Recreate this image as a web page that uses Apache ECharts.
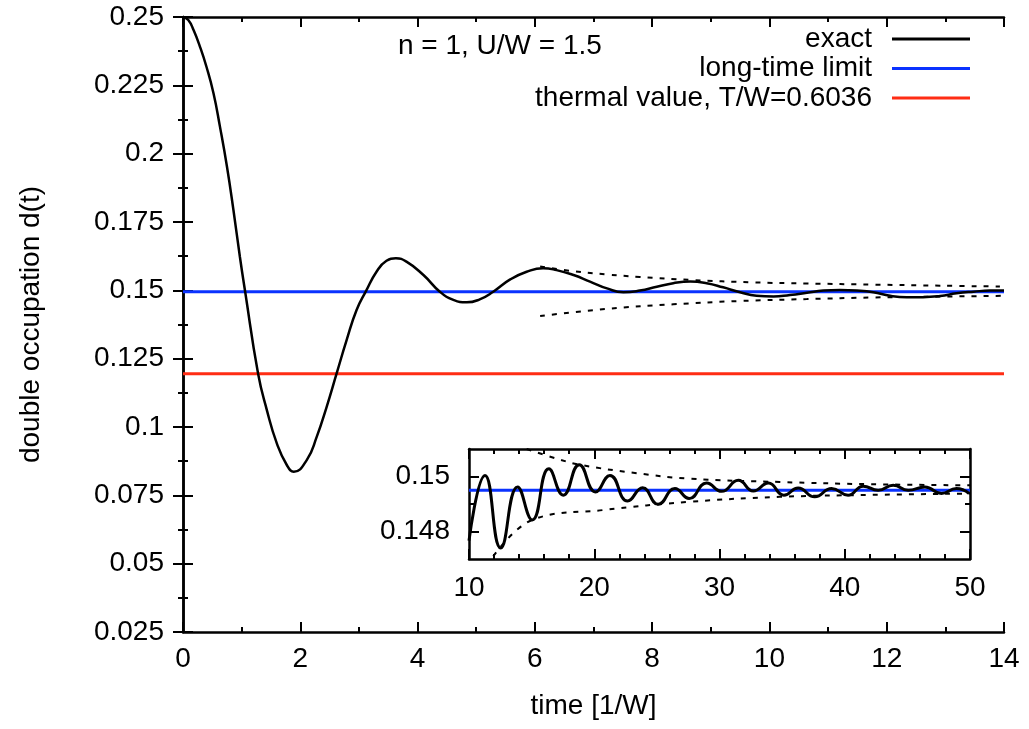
<!DOCTYPE html>
<html><head><meta charset="utf-8">
<script src="https://cdn.jsdelivr.net/npm/echarts@6/dist/echarts.min.js"></script>
<style>html,body{margin:0;padding:0;background:#fff}#c{width:1029px;height:729px}</style>
</head><body><div id="c"></div>
<script>
// ---- data ----
const mainTime = [0, 0.09, 0.18, 0.29, 0.40, 0.52, 0.63, 0.75, 0.86, 0.97, 1.06, 1.28, 1.43, 1.60, 1.77, 1.89, 2.11, 2.28, 2.45, 2.62, 2.79, 2.96, 3.12, 3.30, 3.47, 3.63, 3.81, 4.10, 4.38, 4.61, 4.84, 5.06, 5.29, 5.58, 5.86, 6.14, 6.37, 6.66, 6.94, 7.23, 7.51, 7.79, 8.08, 8.36, 8.65, 8.93, 9.21, 9.50, 9.78, 10.07, 10.35, 10.64, 10.92, 11.20, 11.49, 11.77, 12.06, 12.34, 12.62, 12.91, 13.19, 13.48, 13.76, 14.0];
const mainExact = [0.25, 0.2489, 0.2452, 0.2391, 0.2318, 0.2221, 0.2099, 0.1952, 0.1794, 0.1623, 0.1495, 0.1196, 0.1062, 0.0940, 0.0861, 0.0836, 0.0879, 0.0964, 0.1074, 0.1196, 0.1318, 0.1428, 0.1497, 0.1568, 0.1608, 0.1617, 0.1605, 0.1556, 0.1495, 0.1465, 0.1456, 0.1467, 0.1495, 0.1540, 0.1568, 0.1581, 0.1574, 0.1556, 0.1532, 0.1507, 0.1493, 0.1499, 0.1513, 0.1526, 0.1532, 0.1526, 0.1511, 0.1493, 0.1480, 0.1477, 0.1483, 0.1491, 0.1499, 0.1501, 0.1499, 0.1493, 0.1480, 0.1475, 0.1475, 0.1479, 0.1489, 0.1495, 0.1499, 0.1499];
const longTimeLimit = 0.1495;
const thermalValue = 0.1195;
const mainUpperTime = [6.09, 6.66, 7.23, 7.79, 8.65, 9.73, 10.64, 11.77, 12.91, 13.93];
const mainUpper = [0.1587, 0.1570, 0.1558, 0.1549, 0.1538, 0.1529, 0.1525, 0.1521, 0.1517, 0.1514];
const mainLowerTime = [6.09, 7.23, 8.36, 9.5, 10.64, 11.77, 12.91, 14.0];
const mainLower = [0.1406, 0.1432, 0.1449, 0.1461, 0.1468, 0.1474, 0.1477, 0.1480];
const insetTime = [10.0, 11.28, 12.53, 13.88, 15.05, 16.38, 17.53, 18.8, 20.1, 21.25, 22.67, 23.86, 25.1, 26.44, 27.58, 28.97, 30.17, 31.5, 32.7, 33.9, 35.14, 36.28, 37.6, 38.95, 40.27, 41.47, 42.67, 43.87, 45.07, 46.4, 47.72, 48.92, 49.93];
const insetExact = [0.14767, 0.15004, 0.14740, 0.14962, 0.14842, 0.15028, 0.14932, 0.15043, 0.14944, 0.15004, 0.14911, 0.14959, 0.14899, 0.14956, 0.14920, 0.14976, 0.14946, 0.14986, 0.14947, 0.14976, 0.14932, 0.14958, 0.14926, 0.14956, 0.14932, 0.14965, 0.14950, 0.14968, 0.14950, 0.14962, 0.14938, 0.14956, 0.14938];
const insetUpperTime = [14.6, 17.0, 18.8, 23.4, 27.6, 34.8, 42.0, 50.0];
const insetUpper = [0.1510, 0.15065, 0.15043, 0.15012, 0.14992, 0.14980, 0.14972, 0.14968];
const insetLowerTime = [11.94, 15.05, 20.7, 27.6, 34.8, 42.0, 50.0];
const insetLower = [0.1471, 0.14842, 0.14878, 0.14908, 0.14926, 0.14933, 0.14938];
const insetYLabels = [0.148, 0.15];
const insetYMinor = [0.149];
const names = ['exact', 'long-time limit', 'thermal value, T/W=0.6036'];
const annotation = 'n = 1, U/W = 1.5';

// ---- chart ----
const FONT = 'Liberation Sans, Arial, sans-serif';
const FS = 28;
const zip = (a, b) => a.map((v, i) => [v, b[i]]);
const BLUE = '#0a32ff', RED = '#ff2d14';
const axisLine = { show: true, lineStyle: { color: '#000', width: 2.5 } };
const tick = (len) => ({ show: true, inside: true, length: len, lineStyle: { color: '#000', width: 2 } });
const minor = (n) => ({ show: true, splitNumber: n, length: 5, lineStyle: { color: '#000', width: 2 } });
const lbl = { color: '#000', fontSize: FS, fontFamily: FONT };
const fmt = v => String(parseFloat(v.toFixed(4)));

const option = {
  animation: false,
  backgroundColor: '#fff',
  title: { text: annotation, left: 398, top: 32, padding: 0,
    textStyle: { fontWeight: 'normal', fontSize: FS, fontFamily: FONT, color: '#000' } },
  legend: names.map((n, i) => ({
    data: [n], right: 59, top: 25 + i * 29.5, padding: 0, align: 'right',
    icon: 'rect', itemWidth: 78, itemHeight: 3, selectedMode: false,
    textStyle: { fontSize: FS, fontFamily: FONT, color: '#000', padding: [0, 15, 0, 0] }
  })),
  grid: [
    { left: 183, top: 17, width: 821, height: 615, show: false },
    { left: 469, top: 449, width: 501, height: 110, show: true, backgroundColor: '#fff', borderWidth: 0, z: 5 }
  ],
  xAxis: [
    { gridIndex: 0, type: 'value', position: 'bottom', min: 0, max: 14, interval: 2,
      axisLine, axisTick: tick(10), minorTick: minor(2), splitLine: { show: false },
      axisLabel: Object.assign({ margin: 13 }, lbl),
      name: 'time [1/W]', nameLocation: 'middle', nameGap: 60, nameTextStyle: lbl },
    { gridIndex: 0, type: 'value', position: 'top', min: 0, max: 14, interval: 2,
      axisLine, axisTick: tick(10), minorTick: minor(2), splitLine: { show: false }, axisLabel: { show: false } },
    { gridIndex: 1, type: 'value', position: 'bottom', min: 10, max: 50, interval: 10, z: 6,
      axisLine, axisTick: tick(10), minorTick: minor(5), splitLine: { show: false },
      axisLabel: Object.assign({ margin: 15 }, lbl) },
    { gridIndex: 1, type: 'value', position: 'top', min: 10, max: 50, interval: 10, z: 6,
      axisLine, axisTick: tick(10), minorTick: minor(5), splitLine: { show: false }, axisLabel: { show: false } }
  ],
  yAxis: [
    { gridIndex: 0, type: 'value', position: 'left', min: 0.025, max: 0.25, interval: 0.025,
      axisLine, axisTick: tick(10), minorTick: minor(2), splitLine: { show: false },
      axisLabel: Object.assign({ margin: 19, formatter: fmt }, lbl),
      name: 'double occupation d(t)', nameLocation: 'middle', nameGap: 138, nameTextStyle: lbl },
    { gridIndex: 0, type: 'value', position: 'right', min: 0.025, max: 0.25, interval: 0.025,
      axisLine, axisTick: tick(10), minorTick: minor(2), splitLine: { show: false }, axisLabel: { show: false } },
    { gridIndex: 1, type: 'value', position: 'left', min: 0.147, max: 0.151, interval: 0.001, z: 6,
      axisLine, axisTick: Object.assign(tick(10), { customValues: insetYLabels }), splitLine: { show: false },
      axisLabel: Object.assign({ margin: 19, formatter: fmt, customValues: insetYLabels }, lbl) },
    { gridIndex: 1, type: 'value', position: 'right', min: 0.147, max: 0.151, interval: 0.001, z: 6,
      axisLine, axisTick: Object.assign(tick(10), { customValues: insetYLabels }), splitLine: { show: false },
      axisLabel: { show: false } },
    { gridIndex: 1, type: 'value', position: 'left', min: 0.147, max: 0.151, interval: 0.001, z: 6,
      axisLine: { show: false }, axisTick: Object.assign(tick(5), { customValues: insetYMinor }), splitLine: { show: false },
      axisLabel: { show: false } },
    { gridIndex: 1, type: 'value', position: 'right', min: 0.147, max: 0.151, interval: 0.001, z: 6,
      axisLine: { show: false }, axisTick: Object.assign(tick(5), { customValues: insetYMinor }), splitLine: { show: false },
      axisLabel: { show: false } }
  ],
  series: [
    { name: names[1], type: 'line', xAxisIndex: 0, yAxisIndex: 0, data: [[0, longTimeLimit], [14, longTimeLimit]],
      showSymbol: false, lineStyle: { color: BLUE, width: 3 }, itemStyle: { color: BLUE }, z: 2 },
    { name: names[2], type: 'line', xAxisIndex: 0, yAxisIndex: 0, data: [[0, thermalValue], [14, thermalValue]],
      showSymbol: false, lineStyle: { color: RED, width: 3 }, itemStyle: { color: RED }, z: 2 },
    { name: names[0], type: 'line', xAxisIndex: 0, yAxisIndex: 0, data: zip(mainTime, mainExact),
      showSymbol: false, smooth: 0.5, lineStyle: { color: '#000', width: 2.5 }, itemStyle: { color: '#000' }, z: 3 },
    { name: 'envelope upper', type: 'line', xAxisIndex: 0, yAxisIndex: 0, data: zip(mainUpperTime, mainUpper),
      showSymbol: false, smooth: 0.4, lineStyle: { color: '#000', width: 2, type: [5, 7] }, z: 3 },
    { name: 'envelope lower', type: 'line', xAxisIndex: 0, yAxisIndex: 0, data: zip(mainLowerTime, mainLower),
      showSymbol: false, smooth: 0.4, lineStyle: { color: '#000', width: 2, type: [5, 7] }, z: 3 },
    { name: 'inset long-time limit', type: 'line', xAxisIndex: 2, yAxisIndex: 2, data: [[10, longTimeLimit], [50, longTimeLimit]],
      showSymbol: false, lineStyle: { color: BLUE, width: 3 }, z: 6 },
    { name: 'inset exact', type: 'line', xAxisIndex: 2, yAxisIndex: 2, data: zip(insetTime, insetExact),
      showSymbol: false, smooth: 0.5, lineStyle: { color: '#000', width: 3 }, z: 7 },
    { name: 'inset envelope upper', type: 'line', xAxisIndex: 2, yAxisIndex: 2, data: zip(insetUpperTime, insetUpper),
      showSymbol: false, smooth: 0.4, clip: true, lineStyle: { color: '#000', width: 2, type: [5, 7] }, z: 7 },
    { name: 'inset envelope lower', type: 'line', xAxisIndex: 2, yAxisIndex: 2, data: zip(insetLowerTime, insetLower),
      showSymbol: false, smooth: 0.4, clip: true, lineStyle: { color: '#000', width: 2, type: [5, 7] }, z: 7 }
  ]
};
const chart = echarts.init(document.getElementById('c'), null, { renderer: 'canvas' });
chart.setOption(option);
</script>
</body></html>
